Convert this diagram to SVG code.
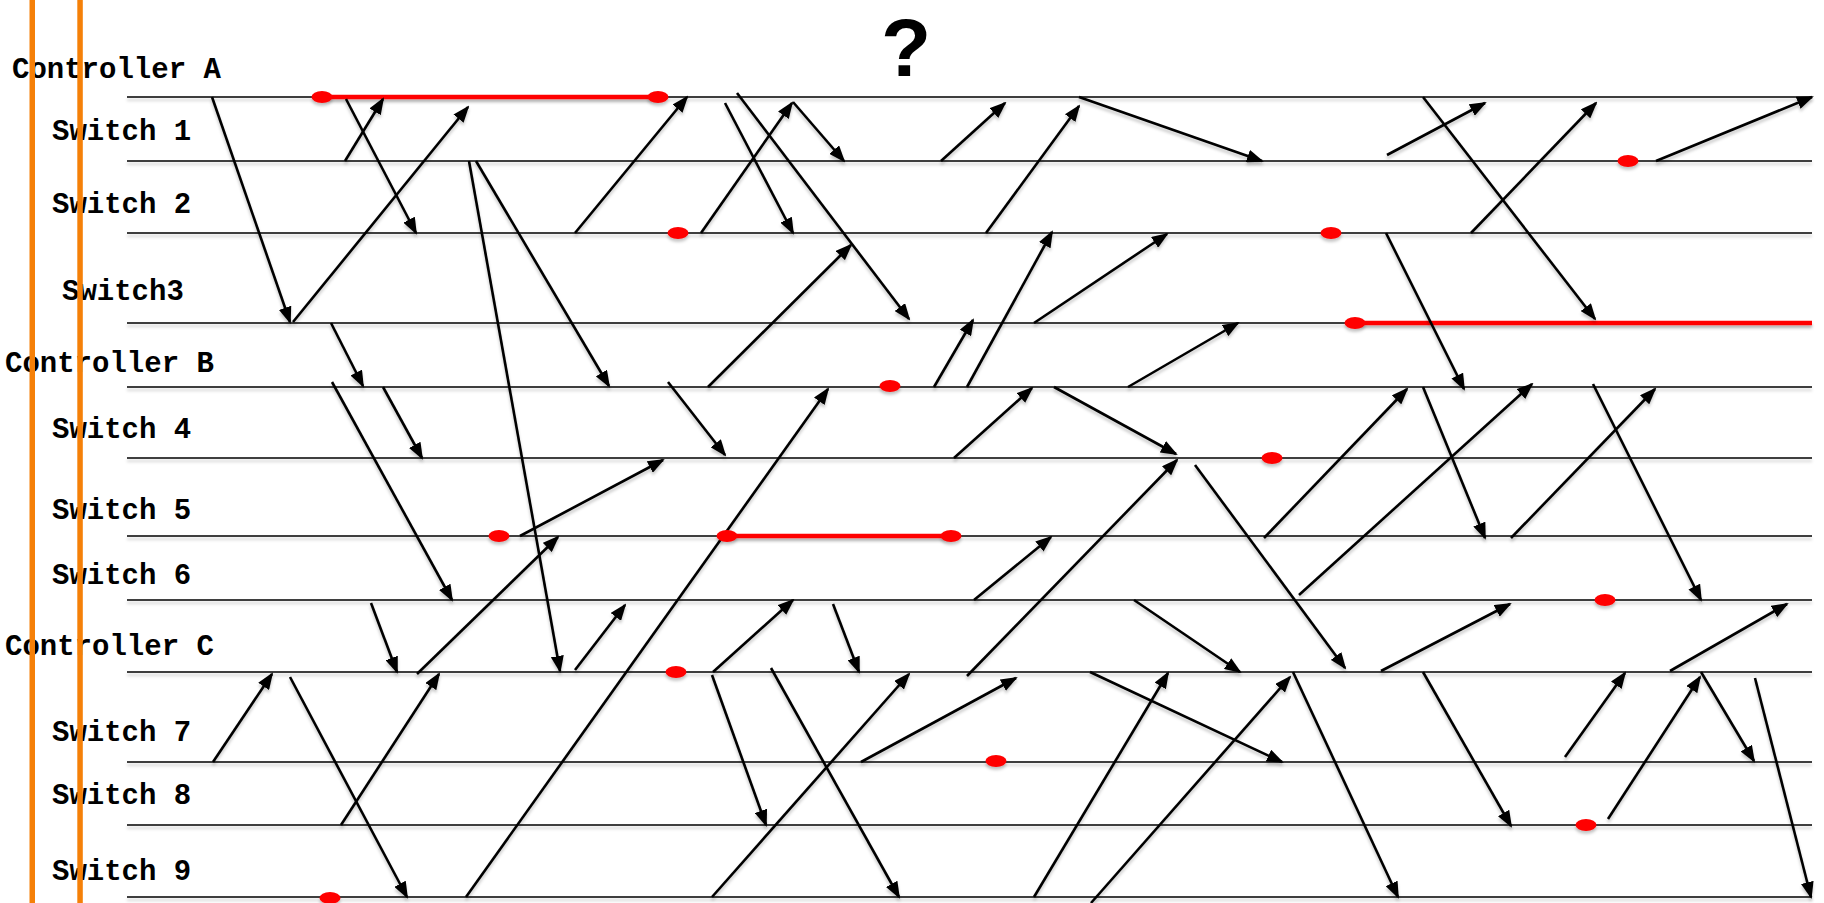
<svg xmlns="http://www.w3.org/2000/svg" width="1824" height="903" viewBox="0 0 1824 903">
<style>
.lbl{font-family:"Liberation Mono","Courier New",monospace;font-weight:bold;font-size:29px;fill:#000}
.life{stroke:#000;stroke-width:1.6;fill:none}
.msg{stroke:#000;stroke-width:2.6;fill:none;marker-end:url(#ah)}
.dot{fill:#ff0000}
.busy{stroke:#ff0000;stroke-width:4.5;fill:none}
.bar{fill:#f58008}
</style>
<defs>
<marker id="ah" markerUnits="userSpaceOnUse" markerWidth="17" markerHeight="13" refX="15" refY="6.5" orient="auto">
<path d="M0,0 L17,6.5 L0,13 Z" fill="#000"/>
</marker>
<filter id="sh" filterUnits="userSpaceOnUse" x="0" y="0" width="1824" height="903">
<feDropShadow dx="0" dy="3" stdDeviation="1.8" flood-color="#000" flood-opacity="0.22"/>
</filter>
</defs>
<rect width="1824" height="903" fill="#fff"/>

<text x="906" y="76" text-anchor="middle" font-family="Liberation Sans, Arial, sans-serif" font-weight="bold" font-size="82">?</text>

<g id="nodes">
<g id="controller-a"><text class="lbl" x="12" y="78">Controller A</text><line class="life" x1="127" y1="97" x2="1812" y2="97" filter="url(#sh)"/></g>
<g id="switch-1"><text class="lbl" x="52" y="140">Switch 1</text><line class="life" x1="127" y1="161" x2="1812" y2="161" filter="url(#sh)"/></g>
<g id="switch-2"><text class="lbl" x="52" y="213">Switch 2</text><line class="life" x1="127" y1="233" x2="1812" y2="233" filter="url(#sh)"/></g>
<g id="switch-3"><text class="lbl" x="62" y="300">Switch3</text><line class="life" x1="127" y1="323" x2="1812" y2="323" filter="url(#sh)"/></g>
<g id="controller-b"><text class="lbl" x="5" y="372">Controller B</text><line class="life" x1="127" y1="387" x2="1812" y2="387" filter="url(#sh)"/></g>
<g id="switch-4"><text class="lbl" x="52" y="438">Switch 4</text><line class="life" x1="127" y1="458" x2="1812" y2="458" filter="url(#sh)"/></g>
<g id="switch-5"><text class="lbl" x="52" y="519">Switch 5</text><line class="life" x1="127" y1="536" x2="1812" y2="536" filter="url(#sh)"/></g>
<g id="switch-6"><text class="lbl" x="52" y="584">Switch 6</text><line class="life" x1="127" y1="600" x2="1812" y2="600" filter="url(#sh)"/></g>
<g id="controller-c"><text class="lbl" x="5" y="655">Controller C</text><line class="life" x1="127" y1="672" x2="1812" y2="672" filter="url(#sh)"/></g>
<g id="switch-7"><text class="lbl" x="52" y="741">Switch 7</text><line class="life" x1="127" y1="762" x2="1812" y2="762" filter="url(#sh)"/></g>
<g id="switch-8"><text class="lbl" x="52" y="804">Switch 8</text><line class="life" x1="127" y1="825" x2="1812" y2="825" filter="url(#sh)"/></g>
<g id="switch-9"><text class="lbl" x="52" y="880">Switch 9</text><line class="life" x1="127" y1="897" x2="1812" y2="897" filter="url(#sh)"/></g>
</g>

<g id="busy-periods" filter="url(#sh)">
<line class="busy" x1="322" y1="97" x2="658" y2="97"/>
<line class="busy" x1="1355" y1="323" x2="1812" y2="323"/>
<line class="busy" x1="727" y1="536" x2="951" y2="536"/>
</g>

<g id="connectors" filter="url(#sh)">
<line class="msg" x1="212" y1="97" x2="290" y2="322"/>
<line class="msg" x1="293" y1="322" x2="468" y2="107"/>
<line class="msg" x1="345" y1="161" x2="383" y2="99"/>
<line class="msg" x1="346" y1="99" x2="416" y2="233"/>
<line class="msg" x1="469" y1="161" x2="560" y2="671"/>
<line class="msg" x1="476" y1="161" x2="609" y2="386"/>
<line class="msg" x1="575" y1="233" x2="687" y2="97"/>
<line class="msg" x1="701" y1="233" x2="792" y2="103"/>
<line class="msg" x1="793" y1="102" x2="844" y2="161"/>
<line class="msg" x1="725" y1="103" x2="793" y2="233"/>
<line class="msg" x1="737" y1="93" x2="909" y2="319"/>
<line class="msg" x1="708" y1="387" x2="851" y2="245"/>
<line class="msg" x1="941" y1="161" x2="1005" y2="103"/>
<line class="msg" x1="986" y1="233" x2="1079" y2="106"/>
<line class="msg" x1="1079" y1="97" x2="1262" y2="161"/>
<line class="msg" x1="967" y1="387" x2="1052" y2="232"/>
<line class="msg" x1="1034" y1="323" x2="1167" y2="234"/>
<line class="msg" x1="934" y1="387" x2="973" y2="320"/>
<line class="msg" x1="1128" y1="387" x2="1238" y2="323"/>
<line class="msg" x1="954" y1="458" x2="1032" y2="388"/>
<line class="msg" x1="1054" y1="387" x2="1176" y2="454"/>
<line class="msg" x1="967" y1="676" x2="1177" y2="460"/>
<line class="msg" x1="1195" y1="465" x2="1345" y2="668"/>
<line class="msg" x1="1264" y1="538" x2="1407" y2="389"/>
<line class="msg" x1="1299" y1="595" x2="1532" y2="384"/>
<line class="msg" x1="974" y1="600" x2="1051" y2="537"/>
<line class="msg" x1="1386" y1="233" x2="1464" y2="389"/>
<line class="msg" x1="1423" y1="97" x2="1595" y2="319"/>
<line class="msg" x1="1423" y1="387" x2="1485" y2="538"/>
<line class="msg" x1="1511" y1="538" x2="1655" y2="389"/>
<line class="msg" x1="1593" y1="384" x2="1701" y2="600"/>
<line class="msg" x1="1387" y1="155" x2="1485" y2="103"/>
<line class="msg" x1="1471" y1="233" x2="1596" y2="103"/>
<line class="msg" x1="1656" y1="161" x2="1812" y2="97"/>
<line class="msg" x1="331" y1="323" x2="363" y2="386"/>
<line class="msg" x1="383" y1="387" x2="422" y2="458"/>
<line class="msg" x1="332" y1="382" x2="452" y2="600"/>
<line class="msg" x1="668" y1="382" x2="725" y2="455"/>
<line class="msg" x1="520" y1="536" x2="663" y2="460"/>
<line class="msg" x1="417" y1="674" x2="558" y2="537"/>
<line class="msg" x1="466" y1="897" x2="828" y2="389"/>
<line class="msg" x1="213" y1="762" x2="272" y2="674"/>
<line class="msg" x1="290" y1="677" x2="407" y2="897"/>
<line class="msg" x1="341" y1="825" x2="439" y2="674"/>
<line class="msg" x1="371" y1="603" x2="397" y2="672"/>
<line class="msg" x1="575" y1="670" x2="625" y2="605"/>
<line class="msg" x1="713" y1="672" x2="793" y2="600"/>
<line class="msg" x1="712" y1="675" x2="766" y2="825"/>
<line class="msg" x1="833" y1="604" x2="859" y2="672"/>
<line class="msg" x1="771" y1="668" x2="899" y2="897"/>
<line class="msg" x1="712" y1="897" x2="909" y2="674"/>
<line class="msg" x1="861" y1="762" x2="1016" y2="678"/>
<line class="msg" x1="1090" y1="672" x2="1282" y2="762"/>
<line class="msg" x1="1134" y1="600" x2="1240" y2="672"/>
<line class="msg" x1="1034" y1="897" x2="1168" y2="673"/>
<line class="msg" x1="1091" y1="903" x2="1290" y2="677"/>
<line class="msg" x1="1293" y1="672" x2="1398" y2="897"/>
<line class="msg" x1="1381" y1="671" x2="1510" y2="604"/>
<line class="msg" x1="1423" y1="672" x2="1511" y2="826"/>
<line class="msg" x1="1565" y1="757" x2="1625" y2="673"/>
<line class="msg" x1="1670" y1="671" x2="1787" y2="604"/>
<line class="msg" x1="1608" y1="819" x2="1700" y2="677"/>
<line class="msg" x1="1701" y1="672" x2="1754" y2="761"/>
<line class="msg" x1="1755" y1="678" x2="1811" y2="897"/>
</g>

<g id="events" filter="url(#sh)">
<ellipse class="dot" cx="322" cy="97" rx="10.5" ry="6"/>
<ellipse class="dot" cx="658" cy="97" rx="10.5" ry="6"/>
<ellipse class="dot" cx="678" cy="233" rx="10.5" ry="6"/>
<ellipse class="dot" cx="1331" cy="233" rx="10.5" ry="6"/>
<ellipse class="dot" cx="1628" cy="161" rx="10.5" ry="6"/>
<ellipse class="dot" cx="1355" cy="323" rx="10.5" ry="6"/>
<ellipse class="dot" cx="890" cy="386" rx="10.5" ry="6"/>
<ellipse class="dot" cx="1272" cy="458" rx="10.5" ry="6"/>
<ellipse class="dot" cx="499" cy="536" rx="10.5" ry="6"/>
<ellipse class="dot" cx="727" cy="536" rx="10.5" ry="6"/>
<ellipse class="dot" cx="951" cy="536" rx="10.5" ry="6"/>
<ellipse class="dot" cx="1605" cy="600" rx="10.5" ry="6"/>
<ellipse class="dot" cx="676" cy="672" rx="10.5" ry="6"/>
<ellipse class="dot" cx="996" cy="761" rx="10.5" ry="6"/>
<ellipse class="dot" cx="1586" cy="825" rx="10.5" ry="6"/>
<ellipse class="dot" cx="330" cy="898" rx="10.5" ry="6"/>
</g>

<g id="bars">
<rect class="bar" x="29.5" y="0" width="5.5" height="903"/>
<rect class="bar" x="77.3" y="0" width="5.5" height="903"/>
</g>
</svg>
